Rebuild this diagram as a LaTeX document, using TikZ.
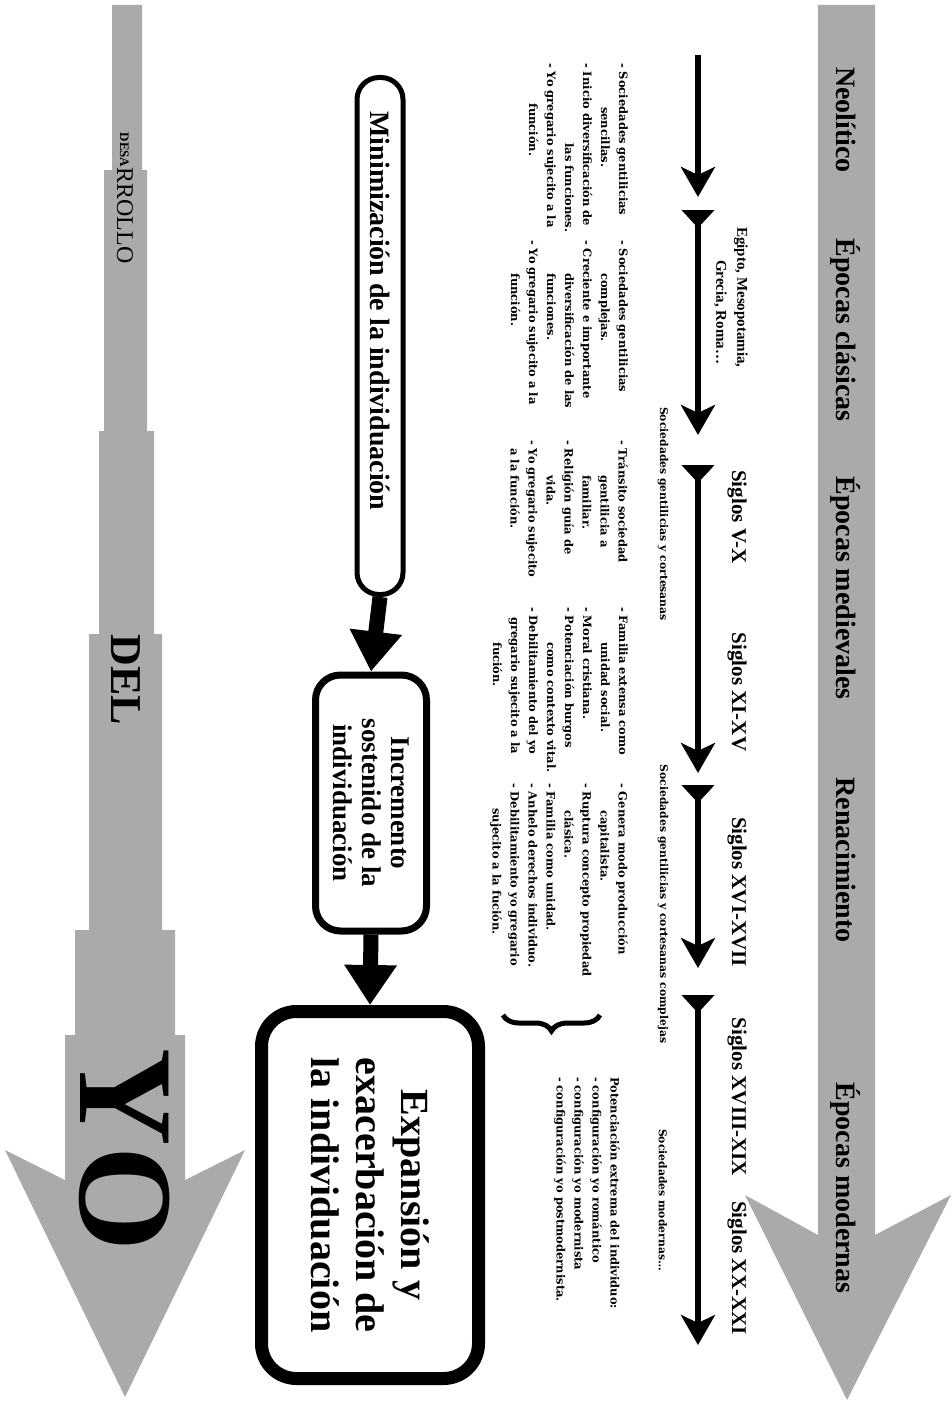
\documentclass[tikz,border=0pt]{standalone}
\usepackage{fontspec}
\setmainfont{Liberation Serif}
\newfontfamily\smallserif{DejaVu Serif}
\usetikzlibrary{arrows.meta,decorations.pathreplacing}
\definecolor{arrowgray}{RGB}{170,170,170}
\tikzset{
  rot/.style={rotate=-90, inner sep=0pt},
  era/.style={rot, font=\fontsize{28}{30}\selectfont\bfseries},
  siglo/.style={rot, font=\fontsize{21}{23}\selectfont\bfseries},
  soc/.style={rot, font=\smallserif\bfseries\fontsize{10.8}{12}\selectfont},
  col/.style={rot, anchor=north west, align=left, font=\smallserif\bfseries\fontsize{11.5}{18}\selectfont},
  tl/.style={line width=6pt, {Triangle[reversed,length=18pt,width=32pt]}-{Stealth[length=30pt,width=34pt,inset=8pt]}},
  tlfirst/.style={line width=6pt, -{Stealth[length=30pt,width=34pt,inset=8pt]}},
  flowbox/.style={rot, draw, align=center},
  blockarrow/.style={line width=15pt, -{Triangle[length=40pt,width=50pt]}},
}
\begin{document}
\begin{tikzpicture}[x=1pt,y=-1pt]
\useasboundingbox (0,0) rectangle (951,1402);

% right gray arrow
\fill[arrowgray] (818,5) -- (875,5) -- (875,1235) -- (951,1195) -- (847,1400)
  -- (745,1195) -- (818,1235) -- cycle;
% left stepped gray arrow
\fill[arrowgray] (112,5) -- (142,5) -- (142,170) -- (147,170) -- (147,431)
  -- (154,431) -- (154,634) -- (162,634) -- (162,930) -- (175,930) -- (175,1035)
  -- (185,1035) -- (185,1180) -- (245,1150) -- (125,1397) -- (5,1150) -- (65,1180)
  -- (65,1035) -- (75,1035) -- (75,930) -- (89,930) -- (89,634) -- (99,634)
  -- (99,431) -- (104,431) -- (104,170) -- (112,170) -- cycle;

% era labels
\node[era] (neo) at (846,120) {Neolítico};
\node[era] (clas) at (846,330) {Épocas clásicas};
\node[era] (med) at (846,588) {Épocas medievales};
\node[era] (ren) at (846,860) {Renacimiento};
\node[era] (mod) at (846,1188) {Épocas modernas};

% timeline
\coordinate (t0) at (698,55);
\coordinate (t1) at (698,197);
\coordinate (t2) at (698,210);
\coordinate (t3) at (698,435);
\coordinate (t4) at (698,465);
\coordinate (t5) at (698,773);
\coordinate (t6) at (698,785);
\coordinate (t7) at (698,968);
\coordinate (t8) at (698,995);
\coordinate (t9) at (698,1345);
\draw[tlfirst] (t0) -- (t1);
\draw[tl] (t2) -- (t3);
\draw[tl] (t4) -- (t5);
\draw[tl] (t6) -- (t7);
\draw[tl] (t8) -- (t9);

% period labels
\node[rot, anchor=north west, align=left, font=\fontsize{15}{21}\selectfont\bfseries] (egipto) at (748,227)
  {Egipto, Mesopotamia,\\\hspace*{33pt}Grecia, Roma…};
\node[siglo] (s1) at (737,517) {Siglos V-X};
\node[siglo] (s2) at (737,692) {Siglos XI-XV};
\node[siglo] (s3) at (737,892) {Siglos XVI-XVII};
\node[siglo] (s4) at (737,1097) {Siglos XVIII-XIX};
\node[siglo] (s5) at (737,1268) {Siglos XX-XXI};

% society labels
\node[soc] (soc1) at (663,514) {Sociedades gentilicias y cortesanas};
\node[soc] (soc2) at (663,904) {Sociedades gentilicias y cortesanas complejas};
\node[soc] (soc3) at (663,1200) {Sociedades modernas\dots};

% columns
\node[col] (c1) at (628,63) {- Sociedades gentilicias\\
\hspace*{44pt}sencillas.\\
- Inicio diversificación de\\
\hspace*{80pt}las funciones.\\
- Yo gregario sujecito a la\\
\hspace*{40pt}función.};
\node[col] (c2) at (628,240) {- Sociedades gentilicias\\
\hspace*{33pt}complejas.\\
- Creciente e importante\\
\hspace*{33pt}diversificación de las\\
\hspace*{33pt}funciones.\\
- Yo gregario sujecito a la\\
\hspace*{33pt}función.};
\node[col] (c3) at (628,440) {- Tránsito sociedad\\
\hspace*{35pt}gentilicia a\\
\hspace*{35pt}familiar.\\
- Religión guía de\\
\hspace*{35pt}vida.\\
- Yo gregario sujecito\\
\hspace*{8pt}a la función.};
\node[col] (c4) at (628,607) {- Familia extensa como\\
\hspace*{35pt}unidad social.\\
- Moral cristiana.\\
- Potenciación burgos\\
\hspace*{35pt}como contexto vital.\\
- Debilitamiento del yo\\
\hspace*{10pt}gregario sujecito a la\\
\hspace*{35pt}fución.};
\node[col] (c5) at (628,783) {- Genera modo producción\\
\hspace*{27pt}capitalista.\\
- Ruptura concepto propiedad\\
\hspace*{27pt}clásica.\\
- Familia como unidad.\\
- Anhelo derechos individuo.\\
- Debilitamiento yo gregario\\
\hspace*{25pt}sujecito a la fución.};
\node[col] (c6) at (620,1077) {Potenciación extrema del individuo:\\
- configuración yo romántico\\
- configuración yo modernista\\
- configuración yo postmodernista.};

% brace
\coordinate (br1) at (600,1015);
\coordinate (br2) at (503,1015);
\draw[line width=5pt, decorate, decoration={brace, amplitude=16pt}] (br1) -- (br2);

% flow boxes
\node[flowbox, line width=5pt, rounded corners=22pt, minimum width=517pt, minimum height=46pt,
  font=\fontsize{28}{30}\selectfont\bfseries] (b1) at (380,336) {Minimización de la individuación\hspace*{50pt}};
\node[flowbox, line width=7pt, rounded corners=25pt, minimum width=256pt, minimum height=111pt,
  font=\fontsize{27}{29}\selectfont\bfseries] (b2) at (371,803) {Incremento\\sostenido de la\\individuación};
\node[flowbox, line width=13pt, rounded corners=35pt, minimum width=367pt, minimum height=217pt,
  font=\fontsize{40}{45}\selectfont\bfseries] (b3) at (370,1195) {Expansión y\\exacerbación de\\la individuación};
\draw[blockarrow] (b1.east) -- (b2.west);
\draw[blockarrow] (b2.east) -- (b3.west);

% left arrow texts
\node[rot] (desarrollo) at (125,198) {\raisebox{3pt}{\fontsize{13}{14}\selectfont\bfseries DESA}{\fontsize{24}{26}\selectfont RROLLO}};
\node[rot, font=\fontsize{44}{48}\selectfont\bfseries] (del) at (126,680) {DEL};
\node[rot, font=\fontsize{135}{140}\selectfont\bfseries] (yo) at (125,1150) {YO};
\end{tikzpicture}
\end{document}
